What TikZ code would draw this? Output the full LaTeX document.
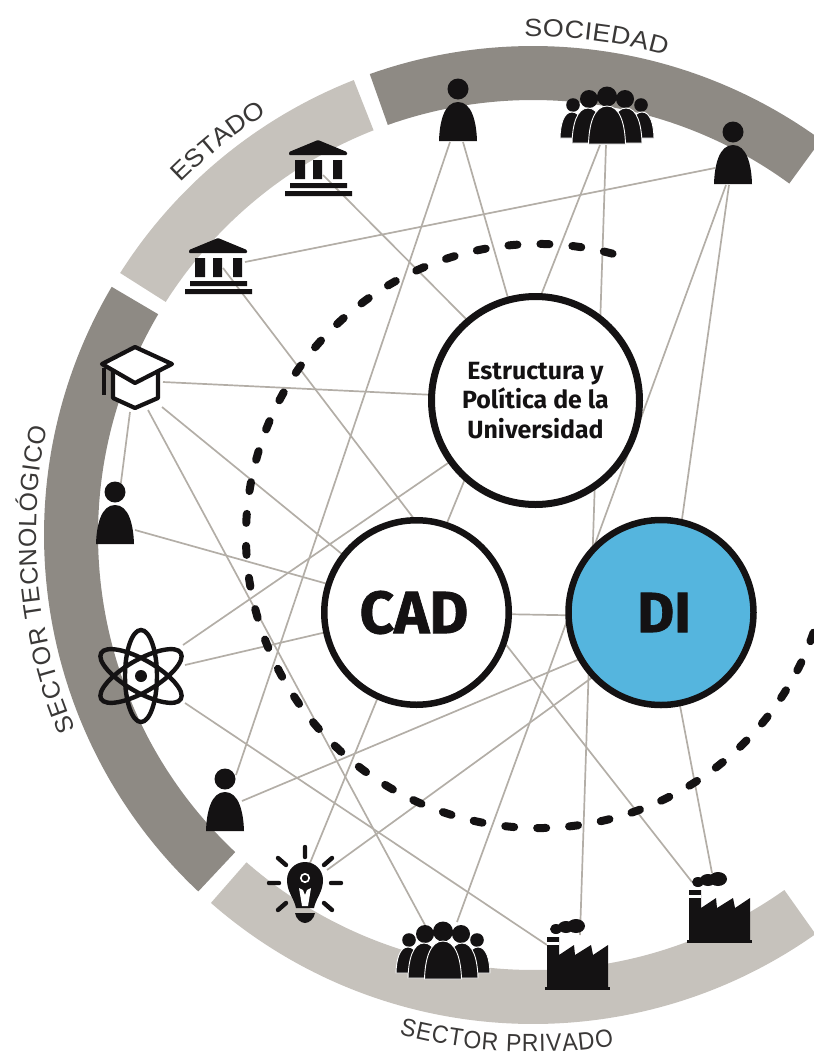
\documentclass[tikz,border=0pt]{standalone}
\usepackage{fontspec}
\usetikzlibrary{decorations.text}
\newfontfamily\labelfamily[FakeStretch=1.08]{Liberation Sans}
\newfontfamily\labelmid[FakeStretch=1.0]{Liberation Sans}
\newfontfamily\labelnarrow[FakeStretch=0.92]{Liberation Sans}
\newfontfamily\boldfamily{Fira Sans}
\newfontfamily\heavyfamily[FakeBold=1.2]{Fira Sans Bold}
\definecolor{ringdark}{HTML}{8E8A84}
\definecolor{ringlight}{HTML}{C6C2BC}
\definecolor{linkc}{HTML}{B3AEA7}
\definecolor{ink}{HTML}{141213}
\definecolor{labelc}{HTML}{3A3837}
\definecolor{diblue}{HTML}{55B5DE}
\pgfdeclarelayer{ring}\pgfdeclarelayer{links}
\pgfsetlayers{ring,links,main}
\tikzset{
  link/.style={draw=linkc,line width=1.7bp},
  bubble/.style={circle,draw=ink,inner sep=0pt,fill=white},
  iconline/.style={draw=ink,line width=4.2bp,line join=round},
  arclabel/.style 2 args={decorate,decoration={text along path,text align={fit to path},text={|#1\fontsize{25}{25}\selectfont\color{labelc}|#2}}}
}
% bell: cx, bottom, half width, height
\newcommand\bell[4]{\path (#1-#3,#2) .. controls (#1-#3*0.97,#2-#4*0.5) and (#1-#3*0.72,#2-#4) .. (#1,#2-#4) .. controls (#1+#3*0.72,#2-#4) and (#1+#3*0.97,#2-#4*0.5) .. (#1+#3,#2) -- cycle;}
\newcommand\iperson[2]{\coordinate (#1) at (#2);
  \begin{scope}[shift={(#2)}]
    \fill[ink] (0,-52) circle[radius=10.5];
    \begin{scope}[every path/.style={fill=ink}]\bell{0}{0}{19}{39}\end{scope}
  \end{scope}}
\newcommand\icrowd[2]{\coordinate (#1) at (#2);
  \begin{scope}[shift={(#2)}]
    \fill[ink] (-34,-39) circle[radius=6.8] (34,-39) circle[radius=6.8];
    \fill[ink] (-18,-45) circle[radius=9] (18,-45) circle[radius=9] (0,-47.5) circle[radius=10];
    \begin{scope}[every path/.style={fill=ink,draw=white,line width=0.9bp}]
      \bell{-35}{-6}{12}{26}\bell{35}{-6}{12}{26}
      \bell{-19}{-1}{16}{35}\bell{19}{-1}{16}{35}
      \bell{0}{0}{18.5}{38}
    \end{scope}
  \end{scope}}
\newcommand\ibank[2]{\coordinate (#1) at (#2);
  \begin{scope}[shift={(#2)}]
    \fill[ink,rounded corners=1bp] (-29,-13) -- (-29,-16) -- (0,-28) -- (29,-16) -- (29,-13) -- cycle;
    \fill[ink] (-23,-8) rectangle (-13,11) (-5,-8) rectangle (4,11) (15,-8) rectangle (24,11);
    \fill[ink] (-28,15) rectangle (29,20) (-33,23) rectangle (34,28);
  \end{scope}}
\newcommand\ifactory[2]{\coordinate (#1) at (#2);
  \begin{scope}[shift={(#2)}]
    \fill[ink] (-30,0) -- (-30,-50) -- (-18,-50) -- (-18,-32) -- (-3,-42) -- (-2,-32) -- (14,-42) -- (16,-32) -- (31,-42) -- (31,0) -- cycle;
    \fill[ink] (-32,0) rectangle (33,3);
    \fill[white] (-30,-45) rectangle (-18,-42);
    \fill[ink] (-21,-58) ellipse[x radius=6,y radius=5] (-11,-60) ellipse[x radius=8,y radius=6] (-1,-61) ellipse[x radius=9,y radius=7];
  \end{scope}}
\begin{document}
\begin{tikzpicture}[x=1bp,y=-1bp]
\useasboundingbox (0,0) rectangle (814,1057);
\clip (0,0) rectangle (814,1057);
\coordinate (ringc) at (533,535);
\coordinate (dashc) at (538,536);

\begin{pgfonlayer}{ring}
\begin{scope}[shift={(ringc)},y=1bp]
  \fill[ringdark] (53.9:489) arc[start angle=53.9,end angle=109.5,radius=489] -- (109.5:435) arc[start angle=109.5,end angle=53.9,radius=435] -- cycle;
  \fill[ringlight] (111.5:489) arc[start angle=111.5,end angle=147.6,radius=489] -- (147.6:435) arc[start angle=147.6,end angle=111.5,radius=435] -- cycle;
  \fill[ringdark] (149.5:489) arc[start angle=149.5,end angle=226.8,radius=489] -- (226.8:435) arc[start angle=226.8,end angle=149.5,radius=435] -- cycle;
  \fill[ringlight] (228.8:489) arc[start angle=228.8,end angle=305.3,radius=489] -- (305.3:435) arc[start angle=305.3,end angle=228.8,radius=435] -- cycle;
  \path[arclabel={\labelfamily}{SOCIEDAD}] (91:498) arc[start angle=91,end angle=74.5,radius=498];
  \path[arclabel={\labelfamily}{ESTADO}] (135:498) arc[start angle=135,end angle=122.8,radius=498];
  \path[arclabel={\labelmid}{SECTOR TECNOLÓGICO}] (203:497) arc[start angle=203,end angle=167.5,radius=497];
  \path[arclabel={\labelnarrow}{SECTOR PRIVADO}] (255:517) arc[start angle=255,end angle=279,radius=517];
\end{scope}
\end{pgfonlayer}

% dashed inner orbit
\begin{scope}[shift={(dashc)},y=1bp]
  \draw[ink,line width=8bp,line cap=round,dash pattern=on 9bp off 23bp] (75.2:292) arc[start angle=75.2,end angle=344,radius=292];
\end{scope}

% main circles
\node[bubble,line width=7bp,minimum size=208bp,font=\boldfamily\bfseries\fontsize{25}{30}\selectfont,align=center,text=ink] (est) at (535.5,400.5) {Estructura y\\Política de la\\Universidad};
\node[bubble,line width=6.5bp,minimum size=184.5bp,font=\heavyfamily\fontsize{60}{60}\selectfont,text=ink,text width=120bp,align=center] (cad) at (416.5,612.5) {\hspace*{-5bp}CAD};
\node[bubble,line width=6.5bp,minimum size=185bp,fill=diblue,font=\heavyfamily\fontsize{57}{60}\selectfont,text=ink,text width=120bp,align=center] (di) at (661,612.5) {\hspace*{6bp}DI};

% icons
\iperson{pa}{458,141}
\iperson{pb}{733,184}
\iperson{pc}{115,544}
\iperson{pd}{225,831}
\icrowd{cra}{607,144}
\icrowd{crb}{443,979}
\ibank{bka}{318,168}
\ibank{bkb}{218,266}
\ifactory{fa}{577,987}
\ifactory{fb}{719,940}
% graduation cap
\coordinate (gcap) at (135,375);
\begin{scope}[shift={(gcap)}]
  \draw[iconline,fill=white] (-22,-5) -- (-22,23) -- (0,33) -- (23,23) -- (23,-5) -- cycle;
  \draw[iconline,fill=white] (-33,-11) -- (0,-28) -- (37,-11) -- (0,8) -- cycle;
  \draw[iconline] (-31,-7) -- (-31,20);
\end{scope}
% atom
\coordinate (atom) at (141,676);
\begin{scope}[shift={(atom)}]
  \draw[ink,line width=4.4bp] (0,0) ellipse[x radius=16,y radius=46];
  \draw[ink,line width=4.4bp,rotate=60] (0,0) ellipse[x radius=16,y radius=46];
  \draw[ink,line width=4.4bp,rotate=-60] (0,0) ellipse[x radius=16,y radius=46];
  \fill[ink] (0,0) circle[radius=6];
\end{scope}
% light bulb
\coordinate (bulb) at (305,880);
\begin{scope}[shift={(bulb)}]
  \fill[ink] (-9,28) .. controls (-11,18) and (-18,12) .. (-18,0) arc[start angle=180,end angle=360,radius=18] .. controls (18,12) and (11,18) .. (9,28) -- cycle;
  \fill[ink] (-10,33) -- (10,33) .. controls (9,39) and (4,43) .. (0,43) .. controls (-4,43) and (-9,39) .. (-10,33) -- cycle;
  \fill[white] (-6,8) -- (-2,10) -- (0,15) -- (2,10) -- (6,8) -- (3,26) -- (-3,26) -- cycle;
  \draw[white,line width=1.6bp] (0,-2) circle[radius=4.2];
  \draw[ink,line width=4.4bp,line cap=round] (0,-33) -- (0,-23) (-27,-22) -- (-19,-15) (27,-22) -- (19,-15) (-36,3) -- (-26,3) (36,3) -- (26,3) (-27,30) -- (-19,23) (27,30) -- (19,23);
\end{scope}

% connectors
\begin{pgfonlayer}{links}
\path[link] ([shift={(-8,1)}]pa.center) -- ([shift={(11,-56)}]pd.center);
\path[link] ([shift={(5,1)}]pa.center) -- ([shift={(-21,-80)}]est.center);
\path[link] ([shift={(-7,1)}]cra.center) -- ([shift={(-0.5,-90)}]est.center);
\path[link] ([shift={(-1,1)}]cra.center) -- ([shift={(3,-52)}]fa.center);
\path[link] ([shift={(-18,-16)}]pb.center) -- ([shift={(27,-4)}]bkb.center);
\path[link] ([shift={(-7,1)}]pb.center) -- ([shift={(14,-57)}]crb.center);
\path[link] ([shift={(-4,1)}]pb.center) -- ([shift={(18,-72)}]di.center);
\path[link] ([shift={(5,7)}]bka.center) -- ([shift={(-55,-67)}]est.center);
\path[link] ([shift={(5,2)}]bkb.center) -- ([shift={(14,-72)}]cad.center);
\path[link] ([shift={(28,7)}]gcap.center) -- ([shift={(-90,-5)}]est.center);
\path[link] ([shift={(27,32)}]gcap.center) -- ([shift={(-52,-40)}]cad.center);
\path[link] ([shift={(-5,37)}]gcap.center) -- ([shift={(5,-54)}]pc.center);
\path[link] ([shift={(13,35)}]gcap.center) -- ([shift={(-18,-54)}]crb.center);
\path[link] ([shift={(20,-14)}]pc.center) -- ([shift={(-62,-21)}]cad.center);
\path[link] ([shift={(42,-31)}]atom.center) -- ([shift={(-65.5,47.5)}]est.center);
\path[link] ([shift={(44,-11)}]atom.center) -- ([shift={(-62,13)}]cad.center);
\path[link] ([shift={(44,27)}]atom.center) -- ([shift={(-30,-42)}]fa.center);
\path[link] ([shift={(17,-30)}]pd.center) -- ([shift={(-61,38)}]di.center);
\path[link] ([shift={(5,-17)}]bulb.center) -- ([shift={(-31.5,67.5)}]cad.center);
\path[link] ([shift={(22,-10)}]bulb.center) -- ([shift={(-51,52)}]di.center);
\path[link] ([shift={(-27,-58)}]fb.center) -- ([shift={(80,20)}]cad.center);
\path[link] ([shift={(-7,-67)}]fb.center) -- ([shift={(14,67)}]di.center);
\path[link] ([shift={(80,1.5)}]cad.center) -- ([shift={(-80,3)}]di.center);
\path[link] ([shift={(-65,65)}]est.center) -- ([shift={(23.5,-72.5)}]cad.center);
\end{pgfonlayer}
\end{tikzpicture}
\end{document}
